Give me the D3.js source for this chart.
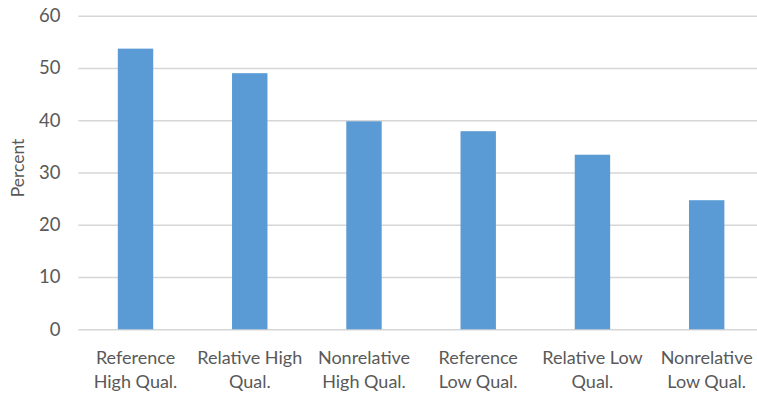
<!DOCTYPE html>
<html>
<head>
<meta charset="utf-8">
<script src="https://cdn.jsdelivr.net/npm/d3@7"></script>
<style>
  html, body { margin: 0; padding: 0; background: #ffffff; }
  svg { display: block; }
  text { font-family: Lato, "Open Sans", sans-serif; fill: #595959; }
</style>
</head>
<body>
<svg id="chart" width="757" height="393"></svg>
<script>
// Share of each source/quality group, in percent
const categoryLines = [
  ["Reference", "High Qual."],
  ["Relative High", "Qual."],
  ["Nonrelative", "High Qual."],
  ["Reference", "Low Qual."],
  ["Relative Low", "Qual."],
  ["Nonrelative", "Low Qual."]
];
const categories = categoryLines.map(l => l.join(" "));
const percentValues = [53.7, 49.0, 39.8, 37.9, 33.4, 24.7];
const yTicks = [0, 10, 20, 30, 40, 50, 60];

const svg = d3.select("#chart");
const plot = { left: 78.4, right: 763.8, top: 15.7, bottom: 329.3 };

const x = d3.scaleBand()
  .domain(categories)
  .range([plot.left, plot.right])
  .paddingInner(0.69)
  .paddingOuter(0.345);

const y = d3.scaleLinear()
  .domain([0, 60])
  .range([plot.bottom, plot.top]);

// Horizontal gridlines and value labels
const yAxis = d3.axisLeft(y)
  .tickValues(yTicks)
  .tickSize(-(plot.right - plot.left))
  .tickPadding(18)
  .tickFormat(d3.format("d"));

const gy = svg.append("g")
  .attr("transform", `translate(${plot.left},0)`)
  .call(yAxis);
gy.select(".domain").remove();
gy.selectAll(".tick line")
  .attr("stroke", "#d6d6d6")
  .attr("stroke-width", 1.4);
gy.selectAll(".tick text")
  .attr("font-size", 18.5)
  .style("fill", "#595959");

// Bars
svg.append("g")
  .selectAll("rect")
  .data(percentValues)
  .join("rect")
  .attr("x", (d, i) => x(categories[i]))
  .attr("width", x.bandwidth())
  .attr("y", d => y(d))
  .attr("height", d => y(0) - y(d))
  .attr("fill", "#5b9bd5");

// Two-line category labels under each bar
const cat = svg.append("g")
  .selectAll("text")
  .data(categoryLines)
  .join("text")
  .attr("text-anchor", "middle")
  .attr("font-size", 18)
  .attr("transform", (d, i) => `translate(${x(categories[i]) + x.bandwidth() / 2},364)`);
cat.selectAll("tspan")
  .data(d => d)
  .join("tspan")
  .attr("x", 0)
  .attr("y", (d, j) => j * 24)
  .text(d => d);

// Axis title
svg.append("text")
  .attr("transform", `translate(24,168) rotate(-90)`)
  .attr("text-anchor", "middle")
  .attr("font-size", 17.5)
  .text("Percent");
</script>
</body>
</html>
